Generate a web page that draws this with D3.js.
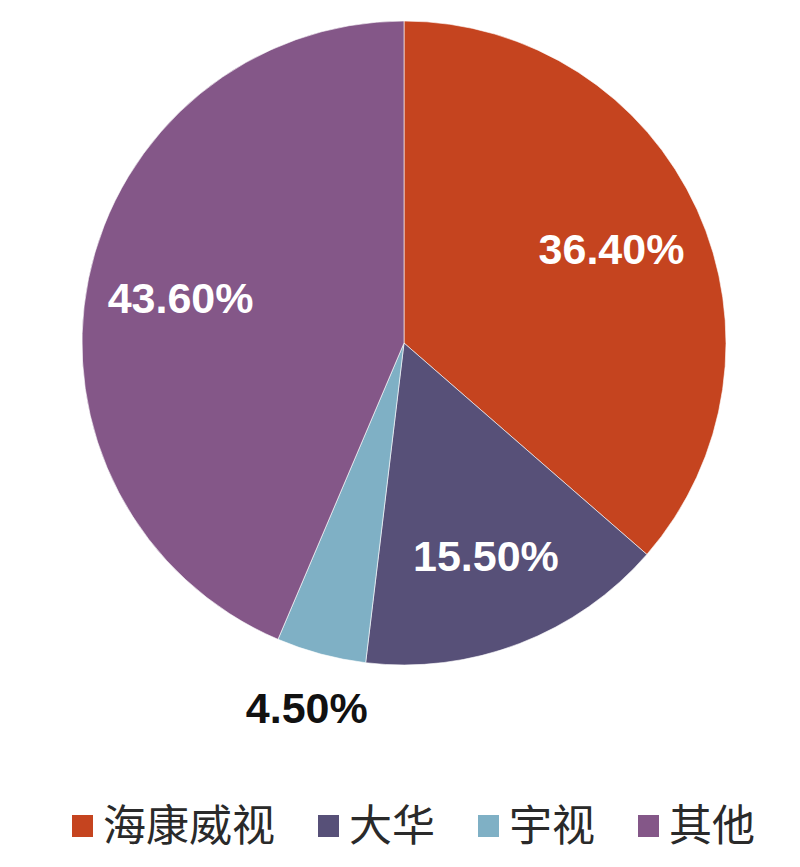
<!DOCTYPE html>
<html>
<head>
<meta charset="utf-8">
<script src="https://cdn.jsdelivr.net/npm/d3@7/dist/d3.min.js"></script>
<style>
  html, body { margin: 0; padding: 0; background: #fff; }
  svg { display: block; }
</style>
</head>
<body>
<svg id="chart" width="800" height="867"></svg>
<script>
// --- data ---
const categories = ['海康威视', '大华', '宇视', '其他'];
const shares = [36.4, 15.5, 4.5, 43.6];
const labels = ['36.40%', '15.50%', '4.50%', '43.60%'];
const colors = ['#c5441f', '#575078', '#7fb0c5', '#845788'];
const labelInside = [true, true, false, true];

// --- layout ---
const W = 800, H = 867;
const cx = 404, cy = 343, R = 322;

const svg = d3.select('#chart');
const g = svg.append('g').attr('transform', `translate(${cx},${cy})`);

const pie = d3.pie().sort(null).value(d => d.value);
const arcs = pie(categories.map((c, i) => ({ name: c, value: shares[i], i })));

const arc = d3.arc().innerRadius(0).outerRadius(R);
const inLabel = d3.arc().innerRadius(228).outerRadius(228);
const outLabel = d3.arc().innerRadius(377).outerRadius(377);

g.selectAll('path.slice').data(arcs).join('path')
  .attr('class', 'slice')
  .attr('d', arc)
  .attr('fill', d => colors[d.data.i])
  .attr('stroke', 'rgba(255,255,255,0.6)')
  .attr('stroke-width', 1);

// percentage labels
g.selectAll('text.lbl').data(arcs).join('text')
  .attr('class', 'lbl')
  .attr('transform', d => {
    const p = labelInside[d.data.i] ? inLabel.centroid(d) : outLabel.centroid(d);
    return `translate(${p[0]},${p[1]})`;
  })
  .attr('dy', '0.36em')
  .attr('text-anchor', 'middle')
  .attr('font-family', '"Liberation Sans", Arial, sans-serif')
  .attr('font-weight', 'bold')
  .attr('font-size', 43)
  .attr('fill', d => labelInside[d.data.i] ? '#fff' : '#111')
  .text(d => labels[d.data.i]);

// --- legend ---
const legend = svg.append('g').attr('transform', 'translate(72,826)');
const fontSize = 43;
let x = 0;
categories.forEach((c, i) => {
  const item = legend.append('g').attr('transform', `translate(${x},0)`);
  item.append('rect')
    .attr('x', 0).attr('y', -11)
    .attr('width', 21).attr('height', 22)
    .attr('fill', colors[i]);
  item.append('text')
    .attr('x', 31).attr('y', 0)
    .attr('dy', '0.36em')
    .attr('font-family', '"Noto Sans CJK SC", "Noto Sans", sans-serif')
    .attr('font-size', fontSize)
    .attr('fill', '#2a2a2a')
    .text(c);
  x += 31 + c.length * fontSize + 43;
});
</script>
</body>
</html>
